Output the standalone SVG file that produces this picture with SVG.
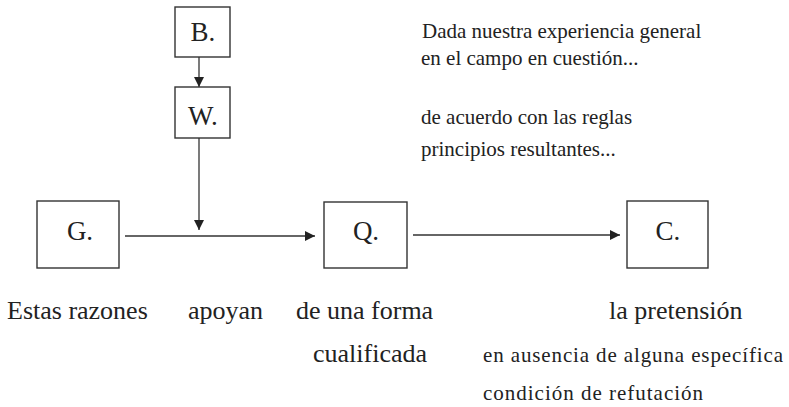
<svg xmlns="http://www.w3.org/2000/svg" width="789" height="407" viewBox="0 0 789 407">
<style>
.box{fill:#fff;stroke:#333;stroke-width:1.4}
.lbl{font-family:"Liberation Serif",serif;font-size:27px;fill:#222;text-anchor:middle}
.big{font-family:"Liberation Serif",serif;font-size:26px;fill:#222}
.sm{font-family:"Liberation Serif",serif;font-size:21px;fill:#222}
.ln{stroke:#333;stroke-width:1.3;fill:none}
</style>
<defs>
<marker id="ah" markerWidth="10" markerHeight="10" refX="10" refY="5" orient="auto" markerUnits="userSpaceOnUse">
<path d="M0,0 L10,5 L0,10 Z" fill="#222"/>
</marker>
</defs>
<rect width="789" height="407" fill="#fff"/>
<g id="connectors">
<line class="ln" x1="199" y1="57" x2="199" y2="87" marker-end="url(#ah)"/>
<line class="ln" x1="199" y1="138" x2="199" y2="230" marker-end="url(#ah)"/>
<line class="ln" x1="125" y1="236" x2="315" y2="236" marker-end="url(#ah)"/>
<line class="ln" x1="413" y1="235" x2="620" y2="235" marker-end="url(#ah)"/>
</g>
<g id="node-B">
<rect class="box" x="175" y="7" width="55" height="50"/>
<text class="lbl" x="203" y="41">B.</text>
</g>
<g id="node-W">
<rect class="box" x="175" y="87" width="55" height="51"/>
<text class="lbl" x="203" y="125">W.</text>
</g>
<g id="node-G">
<rect class="box" x="37" y="201" width="82" height="67"/>
<text class="lbl" x="80" y="240">G.</text>
</g>
<g id="node-Q">
<rect class="box" x="324" y="202" width="83" height="66"/>
<text class="lbl" x="366" y="240">Q.</text>
</g>
<g id="node-C">
<rect class="box" x="627" y="201" width="81" height="67"/>
<text class="lbl" x="668" y="240">C.</text>
</g>
<g id="labels">
<text class="sm" x="422" y="38">Dada nuestra experiencia general</text>
<text class="sm" x="421" y="65">en el campo en cuestión...</text>
<text class="sm" x="421" y="124">de acuerdo con las reglas</text>
<text class="sm" x="421" y="156">principios resultantes...</text>
<text class="big" x="7" y="319">Estas razones</text>
<text class="big" x="188" y="319">apoyan</text>
<text class="big" x="296" y="319">de una forma</text>
<text class="big" x="313" y="362">cualificada</text>
<text class="big" x="609" y="319">la pretensión</text>
<text class="sm" x="483" y="362" font-size="22" textLength="300">en ausencia de alguna específica</text>
<text class="sm" x="483" y="400" font-size="22" textLength="220">condición de refutación</text>
</g>
</svg>
